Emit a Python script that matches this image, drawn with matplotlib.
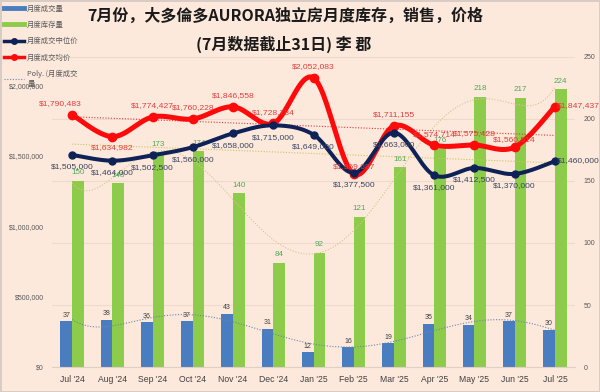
import numpy as np
import matplotlib
matplotlib.use('Agg')
import matplotlib.pyplot as plt
from matplotlib.lines import Line2D

months = ["Jul '24", "Aug '24", "Sep '24", "Oct '24", "Nov '24", "Dec '24", "Jan '25",
          "Feb '25", "Mar '25", "Apr '25", "May '25", "Jun '25", "Jul '25"]
volume = [37, 38, 36, 37, 43, 31, 12, 16, 19, 35, 34, 37, 30]
inventory = [150, 148, 173, 174, 140, 84, 92, 121, 161, 176, 218, 217, 224]
median_price = [1505000, 1464000, 1502500, 1560000, 1658000, 1715000, 1649000,
                1377500, 1663000, 1361000, 1412500, 1370000, 1460000]
avg_price = [1790483, 1634982, 1774427, 1760228, 1846558, 1728784, 2052083,
             1369687, 1711155, 1574714, 1575428, 1560514, 1847437]
left_ticks = [0, 500000, 1000000, 1500000, 2000000]
right_ticks = [0, 50, 100, 150, 200, 250]

title1 = "7月份，大多倫多AURORA独立房月度库存，销售，价格"
title2 = "(7月数据截止31日) 李 郡"
leg_labels = ["月度成交量", "月度库存量", "月度成交中位价", "月度成交均价", "Poly. (月度成交\n量"]

BG = '#FCE9DC'
BLUE = '#4A7CC0'
GREEN = '#8DCB4B'
NAVY = '#0E2257'
RED = '#FF0A0A'
NUMFONT = ['Liberation Sans', 'DejaVu Sans']
CJK = ['Noto Sans CJK SC', 'DejaVu Sans']


def smooth(x, y, n=24):
    x = np.asarray(x, float)
    y = np.asarray(y, float)
    px = np.concatenate([[x[0]], x, [x[-1]]])
    py = np.concatenate([[y[0]], y, [y[-1]]])
    ox, oy = [], []
    t = np.linspace(0, 1, n, endpoint=False)
    for i in range(1, len(px) - 2):
        p0x, p1x, p2x, p3x = px[i - 1], px[i], px[i + 1], px[i + 2]
        p0y, p1y, p2y, p3y = py[i - 1], py[i], py[i + 1], py[i + 2]
        c1x, c1y = p1x + (p2x - p0x) / 6, p1y + (p2y - p0y) / 6
        c2x, c2y = p2x - (p3x - p1x) / 6, p2y - (p3y - p1y) / 6
        bx = (1 - t) ** 3 * p1x + 3 * (1 - t) ** 2 * t * c1x + 3 * (1 - t) * t ** 2 * c2x + t ** 3 * p2x
        by = (1 - t) ** 3 * p1y + 3 * (1 - t) ** 2 * t * c1y + 3 * (1 - t) * t ** 2 * c2y + t ** 3 * p2y
        ox.extend(bx)
        oy.extend(by)
    ox.append(x[-1])
    oy.append(y[-1])
    return np.array(ox), np.array(oy)


fig = plt.figure(figsize=(6, 3.92), dpi=100, facecolor=BG)
fig.patch.set_edgecolor('#D9CCC4')
fig.patch.set_linewidth(1.0)
ax = fig.add_axes([52 / 600, 1 - 367 / 392, 523 / 600, 310 / 392])
axr = ax.twinx()
ax.set_zorder(axr.get_zorder() + 1)
ax.patch.set_visible(False)
axr.patch.set_visible(False)

x = np.arange(len(months))
xf = np.linspace(0, len(months) - 1, 300)

# bars on right axis
bw = 0.29
axr.bar(x - bw / 2, volume, width=bw, color=BLUE, zorder=2)
axr.bar(x + bw / 2, inventory, width=bw, color=GREEN, zorder=2)
for i in range(len(x)):
    axr.annotate(str(volume[i]), (x[i] - bw / 2, volume[i]), xytext=(0, 6), textcoords='offset pixels',
                 ha='center', va='center', fontsize=5, color='#404040', family=NUMFONT, zorder=3)
    axr.annotate(str(inventory[i]), (x[i] + bw / 2, inventory[i]), xytext=(0, 8), textcoords='offset pixels',
                 ha='center', va='center', fontsize=5.8, color='#4FA858', family=NUMFONT, zorder=3)

# trendlines
pv = np.polyfit(x, volume, 6)
axr.plot(xf, np.polyval(pv, xf), ls=(0, (1, 1.5)), color='#6E86AE', lw=0.8, zorder=2.5)
pi = np.polyfit(x, inventory, 6)
axr.plot(xf, np.polyval(pi, xf), ls=(0, (1, 1.5)), color='#D8C48E', lw=0.8, zorder=2.5)
pm = np.polyfit(x, median_price, 1)
ax.plot(xf, np.polyval(pm, xf), ls=(0, (1, 1.5)), color='#C9C655', lw=0.8, zorder=1)
pa = np.polyfit(x, avg_price, 1)
ax.plot(xf, np.polyval(pa, xf), ls=(0, (1, 1.5)), color='#E03A3A', lw=0.8, zorder=1)

# lines
sx, sy = smooth(x, avg_price)
ax.plot(sx, sy, color=RED, lw=3.6, solid_capstyle='round', zorder=3)
ax.plot(x, avg_price, 'o', color=RED, ms=6, zorder=3.1)
sx, sy = smooth(x, median_price)
ax.plot(sx, sy, color=NAVY, lw=2.9, solid_capstyle='round', zorder=4)
ax.plot(x, median_price, 'o', color=NAVY, ms=5, zorder=4.1)

for i in range(len(x)):
    dx, dy, ha = 0, 11, 'center'
    if i == 0:
        dx = -12
    if i == 1:
        dy = -11
    if i == 7:
        dy = 7
    if i == 11:
        dy = 8
    if i == len(x) - 1:
        dx, dy, ha = 2, 1, 'left'
    ax.annotate('${:,}'.format(avg_price[i]), (x[i], avg_price[i]), xytext=(dx, dy), textcoords='offset pixels',
                ha=ha, va='center', fontsize=6.1, color='#E03C3C', family=NUMFONT, zorder=5)
    dx, dy, ha = 0, -12, 'center'
    if i == len(x) - 1:
        dx, dy, ha = 2, 1, 'left'
    ax.annotate('${:,}'.format(median_price[i]), (x[i], median_price[i]), xytext=(dx, dy), textcoords='offset pixels',
                ha=ha, va='center', fontsize=6.1, color='#3A4560', family=NUMFONT, zorder=5)

# axes
ax.set_xlim(-0.5, len(months) - 0.5)
ax.set_ylim(0, 2200000)
axr.set_ylim(0, 250)
ax.set_yticks(left_ticks)
ax.set_yticklabels(['${:,}'.format(v) for v in left_ticks], fontsize=5, color='#595959', family=NUMFONT)
axr.set_yticks(right_ticks)
axr.set_yticklabels([str(v) for v in right_ticks], fontsize=5, color='#595959', family=NUMFONT)
ax.set_xticks(x)
ax.set_xticklabels(months, fontsize=6.2, color='#404040', family=NUMFONT)
ax.tick_params(axis='both', length=0)
ax.tick_params(axis='y', pad=6)
ax.tick_params(axis='x', pad=6)
axr.tick_params(axis='y', length=0, pad=6)
axr.yaxis.grid(True, color='#EDDACD', lw=0.8)
axr.set_axisbelow(True)
for a in (ax, axr):
    for s in a.spines.values():
        s.set_visible(False)
ax.spines['bottom'].set_visible(True)
ax.spines['bottom'].set_color('#E0CFC4')
ax.spines['bottom'].set_linewidth(0.8)

# titles
fig.text(0.475, 1 - 16 / 392, title1, ha='center', va='center', fontsize=11.5, weight='bold',
         family=CJK, color='#1A1A1A')
fig.text(0.472, 1 - 44 / 392, title2, ha='center', va='center', fontsize=11.5, weight='bold',
         family=CJK, color='#1A1A1A')

# legend
handles = [
    Line2D([0], [0], color=BLUE, lw=3.5),
    Line2D([0], [0], color=GREEN, lw=3.5),
    Line2D([0], [0], color=NAVY, lw=2.5, marker='o', ms=4),
    Line2D([0], [0], color=RED, lw=2.5, marker='o', ms=4),
    Line2D([0], [0], color='#6E86AE', lw=0.8, ls=(0, (1, 1.5))),
]
leg = fig.legend(handles, leg_labels, loc='upper left', bbox_to_anchor=(0.0, 1.0), frameon=False,
                 prop={'family': CJK, 'size': 5.3}, labelcolor='#595959', handlelength=2.6,
                 handletextpad=0.5, labelspacing=1.15, borderpad=0.4, borderaxespad=0.2)

fig.savefig('out.png', dpi=100, facecolor=BG)
